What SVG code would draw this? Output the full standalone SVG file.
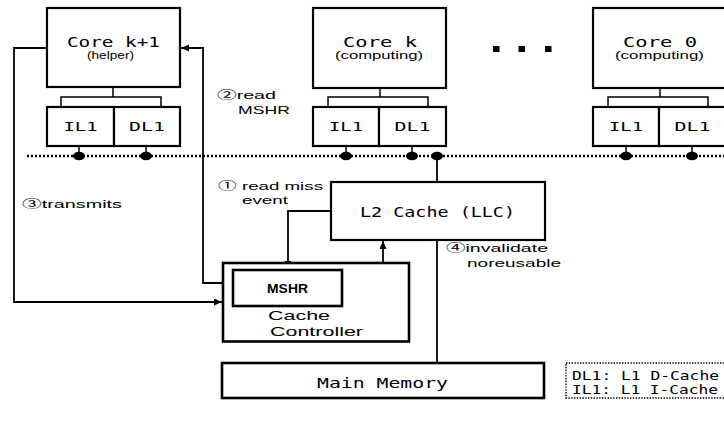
<svg xmlns="http://www.w3.org/2000/svg" width="724" height="424" viewBox="0 0 724 424">
<defs>
<style>
.box{fill:#fff;stroke:#000;stroke-width:2.2}
.cbox{fill:#fff;stroke:#000;stroke-width:2.6}
.ln{fill:none;stroke:#000;stroke-width:1.8}
.br{fill:none;stroke:#000;stroke-width:1.5}
.bus{fill:none;stroke:#000;stroke-width:2.5;stroke-dasharray:2 2}
.leg{fill:#fff;stroke:#000;stroke-width:1.4;stroke-dasharray:1.4 1.4}
.mono{font-family:"DejaVu Sans Mono","Liberation Mono",monospace;fill:#000}
.sans{font-family:"Liberation Sans","Noto Sans CJK JP",sans-serif;fill:#000}
.cj{font-family:"Noto Sans CJK JP",sans-serif}
.dot{fill:#000}
</style>
<marker id="ah" markerUnits="userSpaceOnUse" markerWidth="9" markerHeight="8" refX="8" refY="3.5" orient="auto">
<path d="M0,0 L8,3.5 L0,7 z" fill="#000"/>
</marker>
</defs>
<rect width="724" height="424" fill="#fff"/>

<g id="connectors">
<line class="bus" x1="27" y1="156" x2="724" y2="156"/>
<polyline class="br" points="113,87 113,97"/>
<polyline class="br" points="61,107 61,97 161,97 161,107"/>
<polyline class="br" points="380,88 380,97"/>
<polyline class="br" points="328,107 328,97 428,97 428,107"/>
<polyline class="br" points="660,88 660,97"/>
<polyline class="br" points="608,107 608,97 708,97 708,107"/>
<line class="br" x1="79" y1="146" x2="79" y2="156"/>
<line class="br" x1="146" y1="146" x2="146" y2="156"/>
<line class="br" x1="346" y1="146" x2="346" y2="156"/>
<line class="br" x1="412" y1="146" x2="412" y2="156"/>
<line class="br" x1="626" y1="146" x2="626" y2="156"/>
<line class="br" x1="692" y1="146" x2="692" y2="156"/>
<line class="ln" x1="437" y1="156" x2="437" y2="182"/>
<ellipse class="dot" cx="79" cy="156" rx="6" ry="4.2"/>
<ellipse class="dot" cx="146" cy="156" rx="6" ry="4.2"/>
<ellipse class="dot" cx="346" cy="156" rx="6" ry="4.2"/>
<ellipse class="dot" cx="412" cy="156" rx="6" ry="4.2"/>
<ellipse class="dot" cx="437" cy="156" rx="6" ry="4.2"/>
<ellipse class="dot" cx="626" cy="156" rx="6" ry="4.2"/>
<ellipse class="dot" cx="692" cy="156" rx="6" ry="4.2"/>
<polyline class="ln" points="47,48 14,48 14,302 222,302" marker-end="url(#ah)"/>
<polyline class="ln" points="233,283 203,283 203,48 181,48" marker-end="url(#ah)"/>
<polyline class="ln" points="331,211 288,211 288,269" marker-end="url(#ah)"/>
<line class="ln" x1="383" y1="263" x2="383" y2="241" marker-end="url(#ah)"/>
<line class="ln" x1="437" y1="240" x2="437" y2="363"/>
<text class="sans" x="217" y="99" font-size="11.5" textLength="59" lengthAdjust="spacingAndGlyphs"><tspan class="cj">②</tspan>read</text>
<text class="sans" x="238" y="114" font-size="11.5" textLength="52" lengthAdjust="spacingAndGlyphs">MSHR</text>
<text class="sans" x="218" y="190" font-size="11.5" textLength="105" lengthAdjust="spacingAndGlyphs"><tspan class="cj">①</tspan> read miss</text>
<text class="sans" x="242" y="204" font-size="11.5" textLength="46" lengthAdjust="spacingAndGlyphs">event</text>
<text class="sans" x="22" y="207.5" font-size="11.5" textLength="100" lengthAdjust="spacingAndGlyphs"><tspan class="cj">③</tspan>transmits</text>
<text class="sans" x="446" y="252" font-size="11.5" textLength="102" lengthAdjust="spacingAndGlyphs"><tspan class="cj">④</tspan>invalidate</text>
<text class="sans" x="467" y="267" font-size="11.5" textLength="94" lengthAdjust="spacingAndGlyphs">noreusable</text>
</g>

<g id="core_k1">
<rect class="box" x="47" y="8" width="133" height="79"/>
<text class="mono" x="67" y="47" font-size="14" textLength="93" lengthAdjust="spacingAndGlyphs">Core k+1</text>
<text class="sans" x="87" y="58.5" font-size="10" textLength="47" lengthAdjust="spacingAndGlyphs">(helper)</text>
</g>
<g id="core_k1_il1">
<rect class="box" x="47" y="107" width="67" height="39"/>
<text class="mono" x="80.5" y="131" font-size="12.5" text-anchor="middle" textLength="34" lengthAdjust="spacingAndGlyphs">IL1</text>
</g>
<g id="core_k1_dl1">
<rect class="box" x="114" y="107" width="66" height="39"/>
<text class="mono" x="147" y="131" font-size="12.5" text-anchor="middle" textLength="36" lengthAdjust="spacingAndGlyphs">DL1</text>
</g>

<g id="core_k">
<rect class="box" x="313" y="8" width="133" height="80"/>
<text class="mono" x="343" y="47" font-size="14" textLength="74" lengthAdjust="spacingAndGlyphs">Core k</text>
<text class="sans" x="335" y="58.5" font-size="10.5" textLength="88" lengthAdjust="spacingAndGlyphs">(computing)</text>
</g>
<g id="core_k_il1">
<rect class="box" x="313" y="107" width="66" height="39"/>
<text class="mono" x="346" y="131" font-size="12.5" text-anchor="middle" textLength="34" lengthAdjust="spacingAndGlyphs">IL1</text>
</g>
<g id="core_k_dl1">
<rect class="box" x="379" y="107" width="67" height="39"/>
<text class="mono" x="412.5" y="131" font-size="12.5" text-anchor="middle" textLength="36" lengthAdjust="spacingAndGlyphs">DL1</text>
</g>

<g id="ellipsis">
<rect x="493" y="46" width="6.5" height="6" fill="#000"/>
<rect x="518.5" y="46" width="6.5" height="6" fill="#000"/>
<rect x="545" y="46" width="6.5" height="6" fill="#000"/>
</g>

<g id="core_0">
<rect class="box" x="593" y="8" width="133" height="80"/>
<text class="mono" x="623" y="47" font-size="14" textLength="74" lengthAdjust="spacingAndGlyphs">Core 0</text>
<text class="sans" x="615" y="58.5" font-size="10.5" textLength="89" lengthAdjust="spacingAndGlyphs">(computing)</text>
</g>
<g id="core_0_il1">
<rect class="box" x="593" y="107" width="66" height="39"/>
<text class="mono" x="626" y="131" font-size="12.5" text-anchor="middle" textLength="34" lengthAdjust="spacingAndGlyphs">IL1</text>
</g>
<g id="core_0_dl1">
<rect class="box" x="659" y="107" width="67" height="39"/>
<text class="mono" x="692.5" y="131" font-size="12.5" text-anchor="middle" textLength="36" lengthAdjust="spacingAndGlyphs">DL1</text>
</g>

<g id="l2_cache">
<rect class="box" x="331" y="182" width="214" height="58"/>
<text class="mono" x="360" y="217" font-size="14" textLength="155" lengthAdjust="spacingAndGlyphs">L2 Cache (LLC)</text>
</g>

<g id="cache_controller">
<rect class="cbox" x="223" y="263" width="186" height="78.5"/>
<text class="sans" x="268" y="320" font-size="13" textLength="62" lengthAdjust="spacingAndGlyphs">Cache</text>
<text class="sans" x="270" y="336" font-size="13" textLength="93" lengthAdjust="spacingAndGlyphs">Controller</text>
</g>
<g id="mshr">
<rect class="cbox" x="233" y="270" width="109" height="36"/>
<text class="sans" x="267" y="292.5" font-size="12" font-weight="bold" textLength="41" lengthAdjust="spacingAndGlyphs">MSHR</text>
</g>

<g id="main_memory">
<rect class="cbox" x="222" y="363" width="322" height="35"/>
<text class="mono" x="317" y="388" font-size="14.5" textLength="131" lengthAdjust="spacingAndGlyphs">Main Memory</text>
</g>

<g id="legend">
<rect class="leg" x="566" y="363" width="165" height="35"/>
<text class="mono" x="572" y="379.5" font-size="11.5" textLength="147" lengthAdjust="spacingAndGlyphs">DL1: L1 D-Cache</text>
<text class="mono" x="572" y="393.5" font-size="11.5" textLength="146" lengthAdjust="spacingAndGlyphs">IL1: L1 I-Cache</text>
</g>
</svg>
